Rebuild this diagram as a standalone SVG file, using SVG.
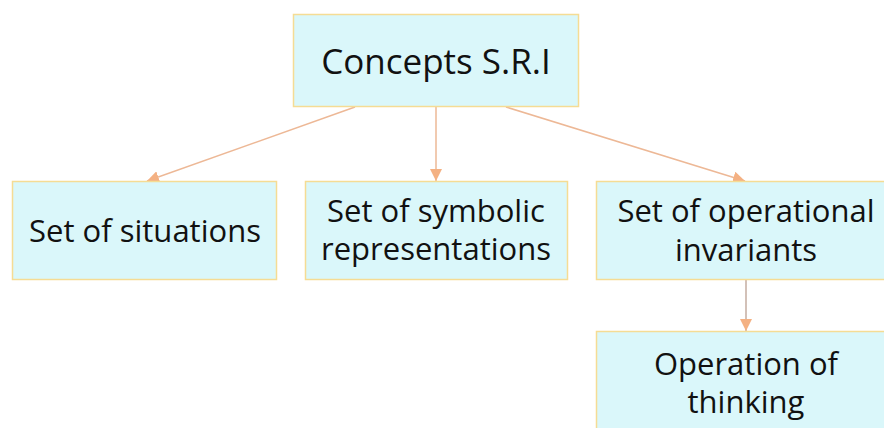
<svg xmlns="http://www.w3.org/2000/svg" width="884" height="428" viewBox="0 0 884 428">
<defs>
<style>
.node rect{fill:#DAF7FA;stroke:#F5DC94;stroke-width:1.5}
.node text{font-family:"Open Sans","Noto Sans",sans-serif;fill:#111;text-anchor:middle}
.t1{font-size:35px}
.t2{font-size:31px}
#connectors line{stroke:#EDB896;stroke-width:1.5;fill:none}
</style>
<marker id="ah" viewBox="0 0 12 12" refX="12" refY="6" markerWidth="12" markerHeight="12" markerUnits="userSpaceOnUse" orient="auto">
<path d="M0,0 L12,6 L0,12 Z" fill="#F4B183"/>
</marker>
</defs>
<rect width="884" height="428" fill="#fff"/>
<g id="connectors">
<line x1="355" y1="107" x2="147" y2="181" marker-end="url(#ah)"/>
<line x1="436" y1="107" x2="436" y2="181" marker-end="url(#ah)"/>
<line x1="506" y1="107" x2="745" y2="181" marker-end="url(#ah)"/>
<line x1="746" y1="280" x2="746" y2="331" marker-end="url(#ah)" style="stroke:#C4ACA0"/>
</g>
<g id="n-top" class="node">
<rect x="293.5" y="14.5" width="285" height="92"/>
<text class="t1" x="436" y="74">Concepts S.R.I</text>
</g>
<g id="n-situations" class="node">
<rect x="12.5" y="181.5" width="264" height="98"/>
<text class="t2" x="145" y="242">Set of situations</text>
</g>
<g id="n-symbolic" class="node">
<rect x="305.5" y="181.5" width="262" height="98"/>
<text class="t2" x="436" y="222">Set of symbolic</text>
<text class="t2" x="436" y="260">representations</text>
</g>
<g id="n-invariants" class="node">
<rect x="596.5" y="181.5" width="300" height="98"/>
<text class="t2" x="746" y="222">Set of operational</text>
<text class="t2" x="746" y="261">invariants</text>
</g>
<g id="n-thinking" class="node">
<rect x="596.5" y="331.5" width="300" height="110"/>
<text class="t2" x="746" y="375">Operation of</text>
<text class="t2" x="746" y="413">thinking</text>
</g>
</svg>
